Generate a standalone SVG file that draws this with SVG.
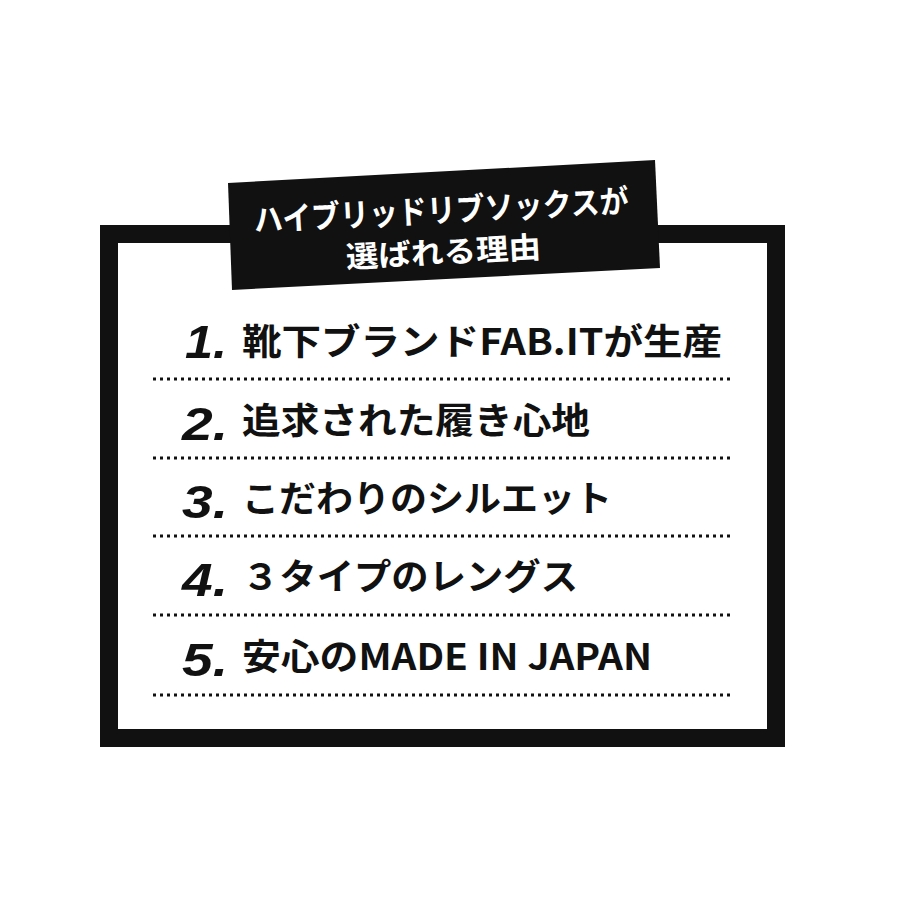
<svg xmlns="http://www.w3.org/2000/svg" width="900" height="900" viewBox="0 0 900 900">
<style>
.t{font-family:"Noto Sans CJK JP","Noto Sans",sans-serif;font-weight:bold;font-size:36px;fill:#111}
.n{font-family:"Liberation Sans","Noto Sans",sans-serif;font-style:italic;font-weight:bold;font-size:46px;fill:#111}
.h{font-family:"Noto Sans CJK JP",sans-serif;font-weight:bold;fill:#fff;text-anchor:middle}
.d{stroke:#111;stroke-width:3;stroke-dasharray:3 4;fill:none}
</style>
<rect width="900" height="900" fill="#fff"/>
<g id="frame"><rect x="109" y="234" width="667" height="504" fill="none" stroke="#111" stroke-width="18"/></g>
<g id="title">
<polygon points="228,183 655,160 660,268 232,290" fill="#111"/>
<g transform="rotate(-3 442 225)">
<text class="h" x="442" y="222" font-size="32" textLength="375" lengthAdjust="spacingAndGlyphs">ハイブリッドリブソックスが</text>
<text class="h" x="442" y="263" font-size="30" textLength="195" lengthAdjust="spacingAndGlyphs">選ばれる理由</text>
</g>
</g>
<g id="items">
<text class="n" x="185" y="358" textLength="42" lengthAdjust="spacingAndGlyphs">1.</text><text class="t" x="242" y="355" textLength="480" lengthAdjust="spacingAndGlyphs">靴下ブランドFAB.ITが生産</text>
<text class="n" x="182" y="440" textLength="46" lengthAdjust="spacingAndGlyphs">2.</text><text class="t" x="242" y="434" textLength="348" lengthAdjust="spacingAndGlyphs">追求された履き心地</text>
<text class="n" x="182" y="518" textLength="46" lengthAdjust="spacingAndGlyphs">3.</text><text class="t" x="242" y="512" textLength="370" lengthAdjust="spacingAndGlyphs">こだわりのシルエット</text>
<text class="n" x="182" y="596" textLength="46" lengthAdjust="spacingAndGlyphs">4.</text><text class="t" x="242" y="590" textLength="336" lengthAdjust="spacingAndGlyphs">３タイプのレングス</text>
<text class="n" x="182" y="676" textLength="46" lengthAdjust="spacingAndGlyphs">5.</text><text class="t" x="242" y="670" textLength="410" lengthAdjust="spacingAndGlyphs">安心のMADE IN JAPAN</text>
</g>
<g id="connectors">
<line class="d" x1="153" y1="379" x2="730" y2="379"/>
<line class="d" x1="153" y1="458" x2="730" y2="458"/>
<line class="d" x1="153" y1="536" x2="730" y2="536"/>
<line class="d" x1="153" y1="615" x2="730" y2="615"/>
<line class="d" x1="153" y1="695" x2="730" y2="695"/>
</g>
</svg>
